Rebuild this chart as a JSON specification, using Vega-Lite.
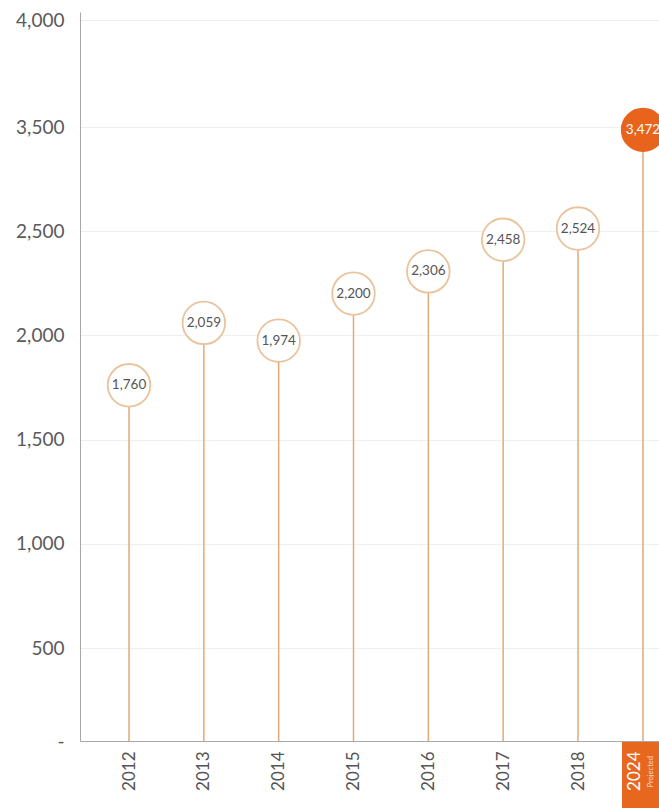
{
  "$schema": "https://vega.github.io/schema/vega-lite/v6.json",
  "width": 579,
  "height": 729,
  "autosize": "none",
  "padding": {"left": 80, "top": 12, "right": 0, "bottom": 67},
  "background": "white",
  "config": {"view": {"stroke": null}, "font": "Lato"},
  "data": {
    "values": [
      {"year": 2012, "value": 1760, "status": "Actual"},
      {"year": 2013, "value": 2059, "status": "Actual"},
      {"year": 2014, "value": 1974, "status": "Actual"},
      {"year": 2015, "value": 2200, "status": "Actual"},
      {"year": 2016, "value": 2306, "status": "Actual"},
      {"year": 2017, "value": 2458, "status": "Actual"},
      {"year": 2018, "value": 2524, "status": "Actual"},
      {"year": 2024, "value": 3472, "status": "Projected"}
    ]
  },
  "encoding": {
    "x": {
      "field": "year",
      "type": "quantitative",
      "scale": {"domain": [2011.345, 2018, 2024, 2025.477], "range": [0, 498, 563, 579], "nice": false, "zero": false, "padding": 0},
      "axis": {
        "values": [2012, 2013, 2014, 2015, 2016, 2017, 2018, 2024],
        "format": "d",
        "title": null,
        "grid": false,
        "ticks": false,
        "labelAngle": -90,
        "labelPadding": 10,
        "labelFontSize": 17,
        "labelFont": "Lato",
        "labelColor": {"expr": "datum.value == 2024 ? '#ffffff' : '#555555'"},
        "labelOffset": {"expr": "datum.value == 2024 ? -9 : 0"},
        "labelFlush": false,
        "labelOverlap": false,
        "domainColor": "#a8a8a8",
        "zindex": 1
      }
    }
  },
  "layer": [
    {
      "transform": [{"filter": "datum.status == 'Projected'"}],
      "mark": {"type": "bar", "width": 42, "color": "#E8671F"},
      "encoding": {
        "y": {
          "datum": 0,
          "type": "quantitative",
          "scale": {"domain": [0, 500, 2500, 3500, 4000, 4080], "range": [729, 636, 219, 115, 8, 0], "nice": false, "zero": false, "padding": 0},
          "axis": {
            "values": [0, 500, 1000, 1500, 2000, 2500, 3500, 4000],
            "labelExpr": "datum.value == 0 ? '-' : format(datum.value, ',')",
            "title": null,
            "grid": true,
            "gridColor": "#efefef",
            "ticks": false,
            "labelPadding": 16,
            "labelFontSize": 19,
            "labelFont": "Lato",
            "labelColor": "#5a5a5a",
            "domainColor": "#a8a8a8"
          }
        },
        "y2": {"datum": -400}
      }
    },
    {
      "mark": {"type": "rule", "color": "#E3AA75", "strokeWidth": 1.5},
      "encoding": {
        "y": {"field": "value", "type": "quantitative"},
        "y2": {"datum": 0}
      }
    },
    {
      "mark": {"type": "point", "shape": "circle", "size": 1810, "filled": true, "strokeWidth": 1.8, "opacity": 1},
      "encoding": {
        "y": {"field": "value", "type": "quantitative"},
        "fill": {"field": "status", "type": "nominal", "scale": {"domain": ["Actual", "Projected"], "range": ["#ffffff", "#E8641C"]}, "legend": null},
        "stroke": {"field": "status", "type": "nominal", "scale": {"domain": ["Actual", "Projected"], "range": ["#E9C39C", "#E8641C"]}, "legend": null}
      }
    },
    {
      "mark": {"type": "text", "fontSize": 13.5, "font": "Lato"},
      "encoding": {
        "y": {"field": "value", "type": "quantitative"},
        "text": {"field": "value", "type": "quantitative", "format": ","},
        "color": {"field": "status", "type": "nominal", "scale": {"domain": ["Actual", "Projected"], "range": ["#555555", "#ffffff"]}, "legend": null}
      }
    },
    {
      "transform": [{"filter": "datum.status == 'Projected'"}],
      "mark": {"type": "text", "angle": 270, "align": "right", "baseline": "middle", "fontSize": 7.5, "dx": -15, "dy": 8, "color": "#fbd9c0", "font": "Lato"},
      "encoding": {
        "y": {"datum": 0, "type": "quantitative"},
        "text": {"field": "status", "type": "nominal"}
      }
    }
  ]
}
